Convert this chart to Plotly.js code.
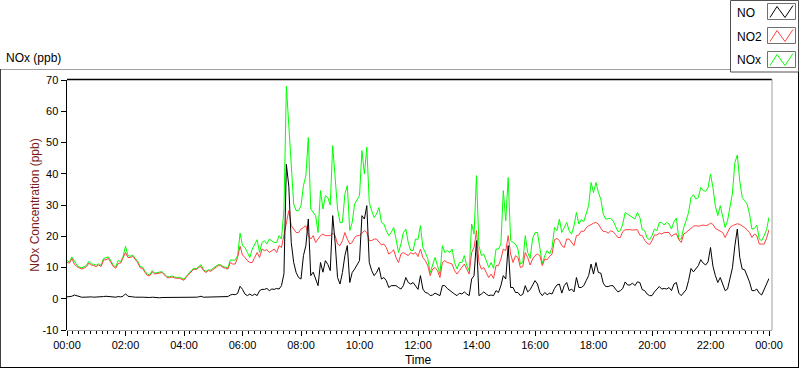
<!DOCTYPE html>
<html>
<head>
<meta charset="utf-8">
<script src="https://cdn.plot.ly/plotly-3.0.1.min.js"></script>
<style>html,body{margin:0;padding:0;background:#fff;}#chart{width:800px;height:369px;}</style>
</head>
<body>
<div id="chart"></div>
<script>
// ---- data (5-minute samples from 00:00 to 24:00) ----
const seriesNames = ['NO', 'NO2', 'NOx'];
const startMinute = 0;
const stepMinutes = 5;

const NO = [
0.6,0.7,0.8,1.2,0.9,0.6,0.5,0.5,0.6,0.7,0.6,0.5,
0.5,0.6,0.5,0.7,0.8,0.7,0.6,0.5,0.5,0.7,0.6,0.8,
1.6,0.8,0.6,0.6,0.5,0.6,0.5,0.5,0.4,0.5,0.4,0.5,
0.4,0.4,0.3,0.4,0.4,0.3,0.4,0.4,0.3,0.4,0.4,0.3,
0.4,0.4,0.3,0.4,0.5,0.5,0.6,0.8,0.5,0.5,0.6,0.5,
0.5,0.6,0.5,0.6,0.5,0.6,0.7,1.2,1.4,1.3,1.7,4.0,
3.0,1.5,1.0,1.5,1.0,1.5,1.0,2.6,3.0,3.0,3.3,2.6,
3.1,3.0,3.3,3.1,4.2,8.0,43.0,36.0,18.0,11.6,8.4,6.8,
6.3,13.8,17.0,25.5,7.4,8.5,6.0,4.2,11.6,8.5,12.2,11.0,
9.0,26.6,18.0,6.8,4.7,8.4,13.8,17.0,5.2,8.4,9.5,11.1,
12.2,26.6,25.5,29.8,11.6,9.0,7.4,8.4,10.0,6.3,6.8,5.8,
3.6,4.2,4.2,4.2,3.6,3.1,4.2,6.8,5.2,4.7,5.2,4.2,
3.0,7.4,3.1,2.0,1.8,1.0,1.2,1.8,1.4,1.0,4.2,4.2,
3.3,2.6,2.2,1.5,1.0,1.8,1.5,2.2,1.5,1.0,6.3,7.4,
18.6,1.0,1.5,2.2,1.5,1.0,1.2,1.0,2.6,2.0,4.2,7.4,
6.3,17.0,3.6,3.6,2.0,2.0,1.0,1.4,4.2,2.2,2.9,4.2,
5.8,4.7,2.0,1.0,2.0,1.3,1.8,1.5,3.3,4.4,4.7,1.8,
4.2,5.2,2.6,3.1,2.2,6.8,3.6,3.6,4.2,5.8,7.4,11.1,
7.9,11.6,8.4,8.2,5.0,3.9,3.9,4.2,4.2,3.1,2.2,2.6,
3.3,5.4,4.4,4.4,5.0,4.2,5.4,5.2,2.9,2.6,1.5,1.0,
1.0,2.2,3.1,3.9,3.1,3.3,3.1,3.6,2.6,4.7,5.2,1.8,
1.0,2.0,2.9,5.8,9.7,8.6,9.5,10.6,12.5,11.4,10.8,11.8,
16.4,10.4,7.4,5.2,6.8,4.7,2.6,3.1,6.8,9.9,17.0,22.3,
13.2,9.5,9.3,7.6,5.4,2.6,2.6,3.1,1.8,1.2,3.1,4.4,6.5
];

const NO2 = [
11.6,11.4,12.9,11.1,10.3,9.8,9.5,9.8,10.3,11.4,10.8,10.6,
10.3,10.8,10.3,12.4,12.5,12.9,11.6,10.3,9.8,11.3,11.4,12.9,
14.8,13.2,13.2,13.6,12.5,11.6,9.9,9.7,8.4,7.4,7.4,8.6,
7.9,8.1,8.3,8.4,7.6,6.8,6.7,7.0,6.7,6.5,6.6,6.3,
5.9,7.0,7.9,8.6,9.5,9.3,10.0,10.3,9.0,8.4,9.0,8.8,
9.5,10.0,10.6,10.6,10.0,9.8,9.5,11.6,11.1,11.1,13.2,16.8,
14.0,13.2,12.2,11.6,11.6,13.2,14.8,13.2,15.9,15.4,15.7,14.8,
15.4,15.9,14.8,17.0,16.4,20.2,24.4,28.2,23.4,22.3,21.2,21.2,
22.3,22.8,23.4,20.2,19.1,20.2,18.0,19.1,20.2,20.7,20.2,20.2,
20.2,21.0,20.2,17.5,17.0,18.6,21.2,19.1,17.5,18.0,19.6,20.2,
20.2,21.0,21.8,21.2,18.6,18.6,19.1,19.1,18.0,17.2,17.5,16.4,
14.3,14.8,15.7,13.2,11.6,14.3,14.8,14.3,13.8,14.8,14.3,14.8,
13.5,15.9,13.2,12.2,10.6,7.4,9.5,10.0,9.0,6.8,11.6,12.2,
11.6,11.4,11.1,9.0,7.9,9.0,10.0,11.1,9.5,7.9,14.8,16.4,
21.8,11.6,9.5,10.0,8.4,6.8,7.9,6.5,10.6,10.6,12.7,15.9,
15.4,20.2,14.3,11.6,13.8,13.2,10.0,10.3,14.8,13.2,10.8,12.7,
13.8,14.3,13.8,10.6,12.7,12.5,13.6,14.3,18.9,19.3,18.6,17.0,
16.4,19.1,19.1,18.0,17.0,20.2,20.4,21.7,21.5,22.7,23.4,23.7,
24.2,24.4,23.9,22.6,21.5,21.5,21.0,21.7,21.5,20.6,19.6,19.6,
21.5,22.1,22.2,22.1,22.0,22.1,22.1,20.4,20.2,18.7,17.8,17.3,
18.6,20.4,20.4,21.0,20.7,21.2,21.2,21.2,19.9,20.6,20.8,18.9,
18.0,20.7,21.2,21.8,22.5,23.2,23.4,23.2,23.4,23.6,23.4,23.6,
24.2,23.8,22.5,22.1,21.7,21.2,19.6,21.2,22.8,23.4,23.8,24.0,
23.8,23.4,22.8,22.1,21.2,19.6,20.7,20.2,17.5,17.5,17.5,19.3,22.1
];

const NOx = [
12.2,11.8,13.4,12.2,10.8,10.2,9.9,10.2,10.7,12.0,11.2,11.0,
10.7,11.2,10.7,12.9,13.1,13.4,12.1,10.7,10.2,12.3,11.8,13.5,
16.8,13.8,13.6,14.0,12.9,12.0,10.3,10.1,8.8,7.8,7.8,9.0,
8.2,8.4,8.6,8.7,7.9,7.1,7.0,7.3,7.0,6.8,6.9,6.6,
6.2,7.3,8.2,8.9,9.8,9.6,10.4,10.9,9.3,8.7,9.3,9.1,
9.8,10.3,10.9,10.9,10.3,10.1,9.9,12.4,12.3,12.3,13.8,21.0,
17.0,16.4,14.8,13.2,15.9,17.5,18.9,14.8,18.0,18.6,17.5,19.1,
18.6,18.0,18.0,20.2,19.1,28.7,68.0,55.0,39.4,30.3,28.2,28.2,
29.8,36.2,39.4,51.6,28.7,27.6,26.6,21.2,34.6,28.7,33.0,32.4,
30.0,49.0,39.4,28.7,24.4,24.4,33.5,36.2,21.8,24.4,30.3,31.9,
33.0,47.4,39.9,48.5,30.8,28.2,26.0,27.1,29.2,24.4,23.9,21.8,
20.2,21.2,22.8,19.1,14.8,17.5,21.2,22.3,18.0,15.4,15.4,19.1,
19.0,23.4,16.4,14.8,12.9,8.4,11.1,13.2,10.6,7.9,17.0,14.8,
15.4,14.8,15.9,11.6,9.5,11.6,11.6,13.8,10.6,9.0,23.9,20.7,
39.4,17.0,13.8,14.3,12.2,10.0,11.6,9.7,15.9,15.9,17.5,34.6,
25.0,38.8,18.6,18.0,17.5,15.9,11.1,11.6,20.2,14.8,12.9,19.1,
21.2,21.2,15.9,11.1,13.8,15.4,14.3,16.4,22.8,21.8,25.5,21.2,
22.8,24.4,21.8,20.7,23.4,27.6,23.9,25.3,24.7,27.6,29.8,37.2,
34.0,37.2,34.0,31.9,27.1,25.5,25.5,25.7,25.0,23.4,21.5,21.8,
23.9,27.6,27.1,26.6,26.1,25.5,27.6,26.1,22.1,21.8,19.4,18.9,
20.2,22.3,21.8,24.4,24.4,23.6,24.4,23.9,22.3,24.7,25.8,19.1,
19.1,22.8,25.0,27.6,32.4,33.3,31.9,32.4,35.6,34.6,34.4,35.6,
39.9,35.6,29.6,26.6,29.8,26.6,22.8,25.0,29.2,33.8,43.6,46.0,
37.7,32.4,31.4,30.3,27.1,22.3,22.5,23.6,19.1,18.6,20.2,22.1,26.1
];

const xTickMinutes = [0,120,240,360,480,600,720,840,960,1080,1200,1320,1440];
const xTickLabels = ['00:00','02:00','04:00','06:00','08:00','10:00','12:00','14:00','16:00','18:00','20:00','22:00','00:00'];
const yTickValues = [-10,0,10,20,30,40,50,60,70];
const yTickLabels = ['-10','0','10','20','30','40','50','60','70'];

// ---- styling ----
const colors = {NO: '#000000', NO2: '#ff4040', NOx: '#00ff00'};
const FONT = 'Liberation Sans, Arial, sans-serif';
const L = 67, R = 31, T = 80, B = 39, W = 800, H = 369;
const PW = W - L - R, PH = H - T - B;
const px = p => (p - L) / PW;          // pixel -> paper x
const py = p => (H - B - p) / PH;      // pixel -> paper y

function mkTrace(name, vals) {
  return {
    type: 'scatter', mode: 'lines', name: name,
    x0: startMinute, dx: stepMinutes, y: vals,
    line: {color: colors[name], width: 1},
    showlegend: false, hoverinfo: 'skip'
  };
}
const traces = [mkTrace('NOx', NOx), mkTrace('NO2', NO2), mkTrace('NO', NO)];

const shapes = [];
function line(x0, y0, x1, y1, color, w) {
  shapes.push({type: 'line', xref: 'paper', yref: 'paper', x0: px(x0), y0: py(y0), x1: px(x1), y1: py(y1),
    line: {color: color, width: w || 1}, layer: 'above'});
}
// plot frame
line(67, 79.5, 772, 79.5, '#000', 1.5);
line(772, 79, 772, 330, '#a0a0a0', 1);
line(67, 330.5, 772, 330.5, '#a0a0a0', 1);
// outer panel
line(0, 69.5, 731, 69.5, '#a0a0a0', 1);
line(0.5, 69, 0.5, 368, '#404040', 1);
line(0, 367.5, 799, 367.5, '#000', 1);
line(798.5, 72, 798.5, 368, '#000', 1);
// legend box
shapes.push({type: 'rect', xref: 'paper', yref: 'paper', x0: px(730.5), y0: py(0.5), x1: px(798.5), y1: py(72),
  line: {color: '#505050', width: 1}, fillcolor: '#ffffff', layer: 'above'});
const legendRows = [11.5, 35.5, 59.5];
const annotations = [];
seriesNames.forEach((nm, i) => {
  const cy = legendRows[i];
  shapes.push({type: 'rect', xref: 'paper', yref: 'paper', x0: px(767.5), y0: py(cy - 8), x1: px(795.5), y1: py(cy + 8),
    line: {color: '#707070', width: 1}, fillcolor: '#ffffff', layer: 'above'});
  const pts = [[770, cy + 6], [777, cy - 5], [785, cy + 6], [793, cy - 6]];
  const path = 'M' + pts.map(p => px(p[0]) + ',' + py(p[1])).join(' L');
  shapes.push({type: 'path', xref: 'paper', yref: 'paper', path: path, line: {color: colors[nm], width: 1}, layer: 'above'});
  annotations.push({xref: 'paper', yref: 'paper', x: px(735), y: py(cy + 1), xanchor: 'left', yanchor: 'middle',
    text: nm, showarrow: false, font: {family: FONT, size: 12, color: '#000'}});
});
annotations.push({xref: 'paper', yref: 'paper', x: px(4), y: py(58), xanchor: 'left', yanchor: 'middle',
  text: 'NOx (ppb)', showarrow: false, font: {family: FONT, size: 12, color: '#000'}});

const layout = {
  width: W, height: H,
  margin: {l: L, r: R, t: T, b: B, pad: 0},
  paper_bgcolor: '#ffffff', plot_bgcolor: '#ffffff',
  font: {family: FONT, size: 11, color: '#000'},
  showlegend: false,
  xaxis: {
    range: [0, 1440], tickmode: 'array', tickvals: xTickMinutes, ticktext: xTickLabels,
    ticks: 'outside', ticklen: 5, tickwidth: 1, tickcolor: '#000',
    showline: false, showgrid: false, zeroline: false, fixedrange: true,
    minor: {tickmode: 'linear', tick0: 0, dtick: 12, ticks: 'outside', ticklen: 3, tickcolor: '#000', showgrid: false},
    tickfont: {family: FONT, size: 11, color: '#000'},
    title: {text: 'Time', standoff: 5, font: {family: FONT, size: 12, color: '#000'}},
    automargin: false
  },
  yaxis: {
    range: [-10, 70], tickmode: 'array', tickvals: yTickValues, ticktext: yTickLabels,
    ticks: 'outside', ticklen: 5, tickwidth: 1, tickcolor: '#000',
    showline: true, linecolor: '#000', linewidth: 1.5,
    showgrid: false, zeroline: false, fixedrange: true,
    tickfont: {family: FONT, size: 11, color: '#000'},
    title: {text: 'NOx Concentration (ppb)', standoff: 0, font: {family: FONT, size: 12, color: '#7a1c1c'}},
    automargin: false
  },
  shapes: shapes,
  annotations: annotations
};

Plotly.newPlot('chart', traces, layout, {displayModeBar: false, staticPlot: true});
</script>
</body>
</html>
